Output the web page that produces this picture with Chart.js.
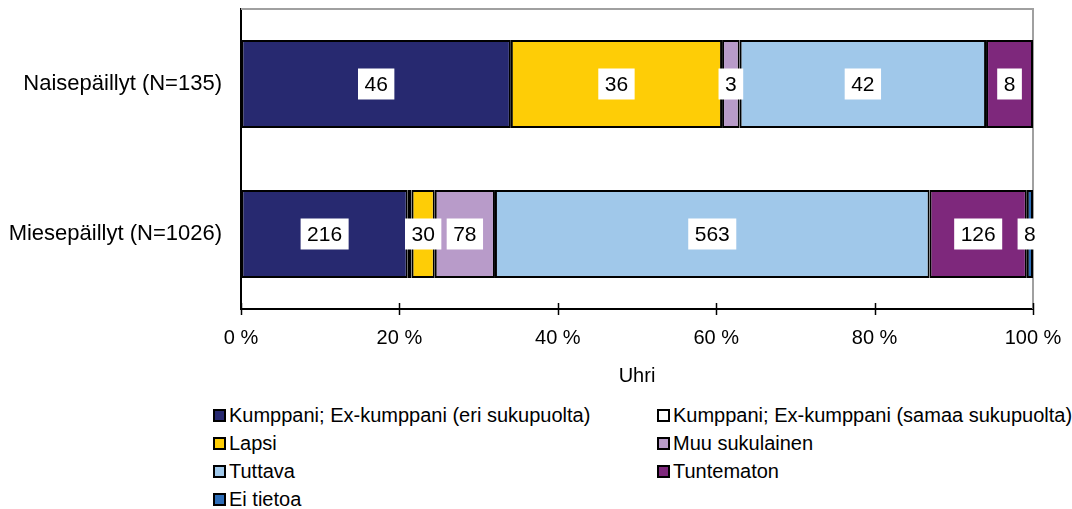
<!DOCTYPE html>
<html>
<head>
<meta charset="utf-8">
<script src="https://cdn.jsdelivr.net/npm/chart.js@4.4.0/dist/chart.umd.min.js"></script>
<style>
  body { margin: 0; background: #fff; width: 1072px; height: 509px; position: relative; overflow: hidden;
         font-family: "Liberation Sans", Arial, sans-serif; }
  #chart { position: absolute; left: 0; top: 0; }
  #legend { position: absolute; left: 213px; top: 401px; display: grid;
            grid-template-columns: 444px auto; grid-auto-rows: 28px; }
  .item { display: flex; align-items: center; font-size: 20px; color: #000; white-space: nowrap; }
  .box { width: 13px; height: 13px; box-sizing: border-box; border: 2px solid #000; margin-right: 3px; }
</style>
</head>
<body>
<canvas id="chart" width="1072" height="400"></canvas>
<div id="legend"></div>
<script>
// Ryhmät ja luokat
const ryhmat = ['Naisepäillyt (N=135)', 'Miesepäillyt (N=1026)'];
const luokat = [
  'Kumppani; Ex-kumppani (eri sukupuolta)',
  'Kumppani; Ex-kumppani (samaa sukupuolta)',
  'Lapsi',
  'Muu sukulainen',
  'Tuttava',
  'Tuntematon',
  'Ei tietoa'
];
const varit = ['#272970', '#ffffff', '#fecd06', '#b89bc9', '#a0c8ea', '#7e287c', '#2e6eb8'];

// Lukumäärät (nais, mies)
const kumppaniEri = [46, 216];
const kumppaniSama = [0, 5];
const lapsi = [36, 30];
const muuSukulainen = [3, 78];
const tuttava = [42, 563];
const tuntematon = [8, 126];
const eiTietoa = [0, 8];
const sarjat = [kumppaniEri, kumppaniSama, lapsi, muuSukulainen, tuttava, tuntematon, eiTietoa];
const naytaArvot = [true, false, true, true, true, true, true];

const xTicks = [0, 20, 40, 60, 80, 100];
const xTitle = 'Uhri';

const totals = ryhmat.map((_, i) => sarjat.reduce((s, d) => s + d[i], 0));

const FONT = '"Liberation Sans", Arial, sans-serif';

// Kehys ylä- ja oikealle reunalle
const kehys = {
  id: 'kehys',
  beforeDatasetsDraw(chart) {
    const a = chart.chartArea, ctx = chart.ctx;
    ctx.save();
    ctx.strokeStyle = '#a0a0a0';
    ctx.lineWidth = 2;
    ctx.beginPath();
    ctx.moveTo(a.left, a.top);
    ctx.lineTo(a.right, a.top);
    ctx.lineTo(a.right, a.bottom);
    ctx.stroke();
    ctx.restore();
  }
};

// Tikit x-akselin yli
const tikit = {
  id: 'tikit',
  afterDraw(chart) {
    const sx = chart.scales.x, ctx = chart.ctx, y = chart.chartArea.bottom;
    ctx.save();
    ctx.strokeStyle = '#000';
    ctx.lineWidth = 1.5;
    sx.ticks.forEach(t => {
      const x = Math.round(sx.getPixelForValue(t.value)) + 0.5;
      ctx.beginPath();
      ctx.moveTo(x, y - 6);
      ctx.lineTo(x, y + 6);
      ctx.stroke();
    });
    ctx.restore();
  }
};

// Arvolaatikot palkkien keskelle
const arvot = {
  id: 'arvot',
  afterDatasetsDraw(chart) {
    const ctx = chart.ctx;
    ctx.save();
    ctx.font = '21px ' + FONT;
    ctx.textAlign = 'center';
    ctx.textBaseline = 'middle';
    chart.data.datasets.forEach((ds, di) => {
      if (!naytaArvot[di]) return;
      chart.getDatasetMeta(di).data.forEach((bar, i) => {
        const v = ds.counts[i];
        if (!v) return;
        const cx = (bar.x + bar.base) / 2, cy = bar.y;
        const txt = String(v);
        const w = ctx.measureText(txt).width + 13;
        ctx.fillStyle = '#fff';
        ctx.fillRect(cx - w / 2, cy - 15.5, w, 31);
        ctx.fillStyle = '#000';
        ctx.fillText(txt, cx, cy + 1);
      });
    });
    ctx.restore();
  }
};

new Chart(document.getElementById('chart'), {
  type: 'bar',
  data: {
    labels: ryhmat,
    datasets: sarjat.map((d, i) => ({
      label: luokat[i],
      data: d.map((v, j) => v / totals[j] * 100),
      counts: d,
      backgroundColor: varit[i],
      borderColor: '#000',
      borderWidth: 2,
      borderSkipped: false,
      barPercentage: 1,
      categoryPercentage: 0.587
    }))
  },
  options: {
    indexAxis: 'y',
    responsive: false,
    animation: false,
    layout: { padding: { top: 9, right: 39, left: 0, bottom: 0 } },
    plugins: { legend: { display: false }, tooltip: { enabled: false } },
    scales: {
      x: {
        stacked: true,
        min: 0,
        max: 100,
        afterBuildTicks(scale) { scale.ticks = xTicks.map(v => ({ value: v })); },
        afterFit(scale) {
          scale.height = 91;
          scale.paddingLeft = 0; scale.paddingRight = 0;
          scale.paddingTop = 0; scale.paddingBottom = 0;
        },
        grid: { display: true, drawOnChartArea: false, drawTicks: false },
        border: { color: '#000', width: 2 },
        ticks: {
          color: '#000',
          padding: 17,
          maxRotation: 0,
          font: { family: FONT, size: 20 },
          callback: v => v + ' %'
        },
        title: {
          display: true,
          text: xTitle,
          color: '#000',
          font: { family: FONT, size: 20 },
          padding: { top: 0, bottom: 12 }
        }
      },
      y: {
        stacked: true,
        afterFit(scale) {
          scale.width = 241;
          scale.paddingLeft = 0; scale.paddingRight = 0;
          scale.paddingTop = 0; scale.paddingBottom = 0;
        },
        grid: { display: false, drawTicks: false },
        border: { color: '#000', width: 2 },
        ticks: {
          color: '#000',
          padding: 19,
          font: { family: FONT, size: 22 }
        }
      }
    }
  },
  plugins: [kehys, arvot, tikit]
});

// Selite
const legend = document.getElementById('legend');
luokat.forEach((l, i) => {
  const it = document.createElement('div');
  it.className = 'item';
  const b = document.createElement('span');
  b.className = 'box';
  b.style.background = varit[i];
  it.appendChild(b);
  it.appendChild(document.createTextNode(l));
  legend.appendChild(it);
});
</script>
</body>
</html>
